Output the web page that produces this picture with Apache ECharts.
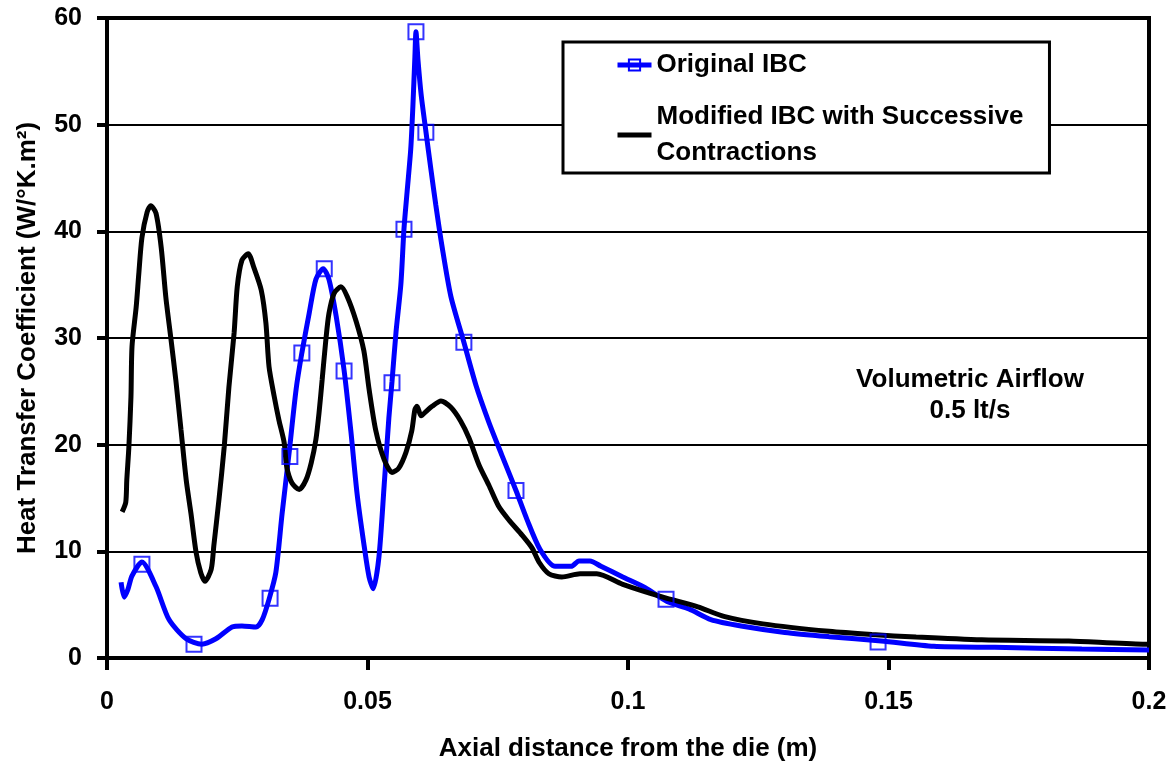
<!DOCTYPE html>
<html>
<head>
<meta charset="utf-8">
<script src="https://cdn.jsdelivr.net/npm/echarts@6/dist/echarts.min.js"></script>
<style>
html,body{margin:0;padding:0;background:#fff;}
#chart{width:1172px;height:770px;}
</style>
</head>
<body>
<div id="chart"></div>
<script>
// ---- Data ----
const seriesNames = ['Original IBC', 'Modified IBC with Successive Contractions'];

const blueX = [0.0027,0.0033,0.0040,0.0048,0.0067,0.0094,0.0119,0.0152,0.0182,0.0209,0.0240,0.0259,0.0286,0.0298,0.0311,0.0324,0.0336,0.0349,0.0363,0.0374,0.0388,0.0401,0.0415,0.0426,0.0440,0.0455,0.0468,0.0480,0.0493,0.0503,0.0511,0.0522,0.0532,0.0541,0.0547,0.0555,0.0564,0.0570,0.0576,0.0583,0.0587,0.0591,0.0593,0.0597,0.0603,0.0612,0.0622,0.0631,0.0643,0.0660,0.0685,0.0708,0.0733,0.0758,0.0785,0.0806,0.0831,0.0860,0.0891,0.0906,0.0927,0.0948,0.0990,0.1033,0.1075,0.1117,0.1159,0.1217,0.1301,0.1386,0.1486,0.1587,0.1704,0.1871,0.2000];
const blueY = [7.1,5.7,6.4,7.7,9.0,6.7,3.6,1.8,1.3,1.8,2.9,3.0,2.9,3.6,5.5,8.0,13.5,19.0,25.2,28.6,32.3,35.5,36.5,35.5,32.0,27.0,21.3,15.4,10.7,7.6,6.5,9.5,16.2,22.5,25.9,30.7,35.0,40.2,43.7,47.7,51.6,56.4,58.7,56.0,52.8,49.4,45.7,42.5,38.6,33.9,29.6,25.6,22.1,19.0,15.7,13.0,10.2,8.6,8.6,9.1,9.1,8.6,7.6,6.6,5.3,4.6,3.6,3.0,2.4,2.0,1.6,1.1,1.0,0.85,0.75];

const markerX = [0.0067,0.0167,0.0313,0.0351,0.0374,0.0417,0.0455,0.0547,0.0570,0.0593,0.0612,0.0685,0.0785,0.1073,0.1480];
const markerY = [8.8,1.3,5.6,18.9,28.6,36.5,26.9,25.8,40.2,58.7,49.3,29.6,15.7,5.5,1.5];

const blackX = [0.0029,0.0036,0.0038,0.0042,0.0046,0.0048,0.0056,0.0061,0.0067,0.0077,0.0084,0.0094,0.0104,0.0113,0.0123,0.0132,0.0142,0.0152,0.0161,0.0171,0.0180,0.0188,0.0200,0.0205,0.0215,0.0225,0.0234,0.0244,0.0250,0.0259,0.0271,0.0282,0.0296,0.0305,0.0311,0.0321,0.0330,0.0340,0.0345,0.0355,0.0369,0.0382,0.0392,0.0401,0.0407,0.0413,0.0420,0.0426,0.0436,0.0449,0.0461,0.0478,0.0493,0.0503,0.0516,0.0532,0.0547,0.0560,0.0574,0.0585,0.0591,0.0595,0.0603,0.0612,0.0624,0.0641,0.0660,0.0679,0.0695,0.0714,0.0733,0.0752,0.0772,0.0797,0.0816,0.0829,0.0848,0.0873,0.0908,0.0940,0.0990,0.1067,0.1134,0.1184,0.1259,0.1386,0.1468,0.1553,0.1679,0.1846,0.1988,0.2000];
const blackY = [13.7,14.6,16.7,19.8,24.5,29.2,32.9,36.0,39.4,41.8,42.4,41.7,38.5,33.8,29.8,26.1,21.4,16.7,13.6,9.9,8.0,7.2,8.3,10.5,14.9,19.8,25.4,30.5,34.8,37.3,37.9,36.6,34.5,31.4,27.3,24.5,22.3,20.2,17.9,16.4,15.8,16.7,18.3,20.5,23.0,26.1,29.8,32.3,34.2,34.8,33.9,31.6,28.8,25.2,21.3,18.6,17.4,17.8,19.3,21.3,23.3,23.6,22.7,23.1,23.6,24.1,23.5,22.2,20.6,18.1,16.2,14.2,12.9,11.5,10.3,9.0,7.9,7.6,7.9,7.9,6.9,5.7,4.8,3.9,3.2,2.5,2.2,1.96,1.7,1.6,1.3,1.3];

const xTicks = [0, 0.05, 0.1, 0.15, 0.2];
const yTicks = [0, 10, 20, 30, 40, 50, 60];
const xTitle = 'Axial distance from the die (m)';
const yTitle = 'Heat Transfer Coefficient (W/°K.m²)';
const noteLines = ['Volumetric Airflow', '0.5 lt/s'];

// ---- Chart ----
const FONT = "'Liberation Sans', Arial, sans-serif";
const zip = (xs, ys) => xs.map((x, i) => [x, ys[i]]);

const chart = echarts.init(document.getElementById('chart'), null, {renderer: 'canvas'});
chart.setOption({
  animation: false,
  backgroundColor: '#fff',
  grid: {left: 107, right: 23, top: 18, bottom: 112, show: true, borderColor: '#000', borderWidth: 4, backgroundColor: 'transparent'},
  xAxis: {
    type: 'value', min: xTicks[0], max: xTicks[xTicks.length - 1], interval: 0.05,
    name: xTitle, nameLocation: 'middle', nameGap: 78,
    nameTextStyle: {fontFamily: FONT, fontWeight: 'bold', fontSize: 26, color: '#000'},
    axisLine: {lineStyle: {color: '#000', width: 4}},
    axisTick: {show: true, inside: false, length: 12, lineStyle: {color: '#000', width: 4}},
    axisLabel: {fontFamily: FONT, fontWeight: 'bold', fontSize: 25, color: '#000', margin: 32,
      formatter: v => String(+v.toFixed(2))},
    splitLine: {show: false}
  },
  yAxis: {
    type: 'value', min: yTicks[0], max: yTicks[yTicks.length - 1], interval: 10,
    name: yTitle, nameLocation: 'middle', nameGap: 66, nameRotate: 90,
    nameTextStyle: {fontFamily: FONT, fontWeight: 'bold', fontSize: 26, color: '#000'},
    axisLine: {lineStyle: {color: '#000', width: 4}},
    axisTick: {show: true, inside: false, length: 10, lineStyle: {color: '#000', width: 4}},
    axisLabel: {fontFamily: FONT, fontWeight: 'bold', fontSize: 25, color: '#000', margin: 25},
    splitLine: {show: true, lineStyle: {color: '#000', width: 2}}
  },
  legend: {
    data: [
      {name: seriesNames[0], lineStyle: {width: 5, color: '#0000ff'}},
      {name: seriesNames[1], lineStyle: {width: 5, color: '#000'}, itemStyle: {opacity: 0}}
    ],
    orient: 'vertical',
    left: 563, top: 42,
    backgroundColor: '#fff',
    borderColor: '#000', borderWidth: 3, borderRadius: 0,
    padding: [5, 26, 2, 52],
    itemWidth: 34, itemHeight: 14, itemGap: 16,
    textStyle: {fontFamily: FONT, fontWeight: 'bold', fontSize: 26, color: '#000', lineHeight: 36},
    formatter: n => n === seriesNames[1] ? 'Modified IBC with Successive\nContractions' : n,
    z: 10
  },
  graphic: [{
    type: 'text', x: 970, y: 395, z: 20,
    style: {text: noteLines.join('\n'), fontFamily: FONT, fontWeight: 'bold', fontSize: 26, fill: '#000', align: 'center', verticalAlign: 'middle', lineHeight: 31}
  }],
  series: [
    {
      name: seriesNames[0], type: 'line', data: zip(blueX, blueY),
      symbol: 'rect', symbolSize: 12, showSymbol: false, smooth: 0.25,
      lineStyle: {color: '#0000ff', width: 5},
      itemStyle: {color: 'transparent', borderColor: '#0000ff', borderWidth: 2},
      z: 3
    },
    {
      name: seriesNames[0], type: 'scatter', data: zip(markerX, markerY),
      symbol: 'rect', symbolSize: 15,
      itemStyle: {color: 'transparent', borderColor: '#0000ff', borderWidth: 2},
      z: 5
    },
    {
      name: seriesNames[1], type: 'line', data: zip(blackX, blackY),
      symbol: 'none', smooth: 0.25,
      lineStyle: {color: '#000', width: 5},
      itemStyle: {color: '#000'},
      z: 4
    }
  ]
});
</script>
</body>
</html>
